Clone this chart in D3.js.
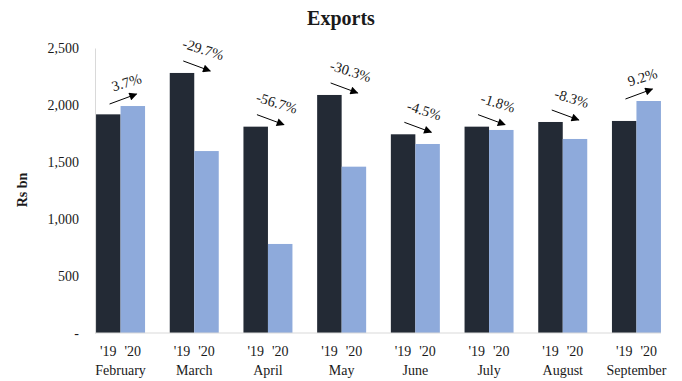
<!DOCTYPE html>
<html>
<head>
<meta charset="utf-8">
<script src="https://cdn.jsdelivr.net/npm/d3@7"></script>
<style>
	body { margin: 0; background: #fff; }
	text { font-family: "Liberation Serif", serif; fill: #1a1a1a; }
</style>
</head>
<body>
<div id="graph"></div>
<script>
var width = 682;
var height = 381;

// data
var months = ["February", "March", "April", "May", "June", "July", "August", "September"];
var exports19 = [1918, 2281, 1810, 2088, 1743, 1810, 1851, 1860];
var exports20 = [1991, 1596, 781, 1459, 1658, 1781, 1702, 2035];
var changeLabels = ["3.7%", "-29.7%", "-56.7%", "-30.3%", "-4.5%", "-1.8%", "-8.3%", "9.2%"];
var yearLabels = ["'19", "'20"];
var yTicks = [0, 500, 1000, 1500, 2000, 2500];

var colors = ["#232a35", "#8eaadb"];

var chart = d3.select("#graph")
	.append("svg")
	.attr("width", width)
	.attr("height", height);

var yScale = d3.scaleLinear().domain([0, 2500]).range([333, 48]);

var p = 24.7 / 73.7;
var xScale = d3.scaleBand().domain(months).range([83.7, 673.3])
	.paddingInner(p).paddingOuter(p / 2);
var xSub = d3.scaleBand().domain([0, 1]).range([0, xScale.bandwidth()]);

var rows = months.map(function (m, i) {
	return { month: m, v: [exports19[i], exports20[i]], label: changeLabels[i] };
});

// title
chart.append("text")
	.attr("x", 341).attr("y", 25)
	.attr("text-anchor", "middle")
	.style("font-size", "20px")
	.style("font-weight", "bold")
	.text("Exports");

// y axis title
chart.append("text")
	.attr("transform", "translate(27,190) rotate(-90)")
	.attr("text-anchor", "middle")
	.style("font-size", "14px")
	.style("font-weight", "bold")
	.text("Rs bn");

// y axis
var yAxis = d3.axisLeft(yScale)
	.tickValues(yTicks)
	.tickSize(0)
	.tickPadding(16)
	.tickFormat(function (d) { return d == 0 ? "-" : d3.format(",")(d); });

var gy = chart.append("g")
	.attr("transform", "translate(95,0)")
	.call(yAxis);
gy.select(".domain").attr("stroke", "#d9d9d9");
gy.selectAll(".tick text")
	.style("font-size", "14px")
	.style("font-family", "Liberation Serif, serif")
	.attr("fill", "#1a1a1a");

// bars
var groups = chart.selectAll("g.month")
	.data(rows)
	.enter()
	.append("g")
	.attr("class", "month")
	.attr("transform", function (d) { return "translate(" + xScale(d.month) + ",0)"; });

groups.selectAll("rect")
	.data(function (d) { return d.v; })
	.enter()
	.append("rect")
	.attr("x", function (d, i) { return xSub(i); })
	.attr("width", xSub.bandwidth())
	.attr("y", function (d) { return yScale(d); })
	.attr("height", function (d) { return yScale(0) - yScale(d); })
	.attr("fill", function (d, i) { return colors[i]; });

// x axis line
chart.append("line")
	.attr("x1", 95).attr("x2", 661)
	.attr("y1", yScale(0)).attr("y2", yScale(0))
	.attr("stroke", "#d9d9d9");

// year labels
groups.selectAll("text.yr")
	.data(yearLabels)
	.enter()
	.append("text")
	.attr("class", "yr")
	.attr("x", function (d, i) { return xSub(i) + xSub.bandwidth() / 2; })
	.attr("y", 356)
	.attr("text-anchor", "middle")
	.style("font-size", "14px")
	.text(function (d) { return d; });

groups.append("text")
	.attr("x", xScale.bandwidth() / 2)
	.attr("y", 375)
	.attr("text-anchor", "middle")
	.style("font-size", "14px")
	.text(function (d) { return d.month; });

// change arrows
chart.append("defs").append("marker")
	.attr("id", "head")
	.attr("viewBox", "0 0 10 10")
	.attr("refX", 9).attr("refY", 5)
	.attr("markerWidth", 10).attr("markerHeight", 8)
	.attr("markerUnits", "userSpaceOnUse")
	.attr("orient", "auto")
	.append("path")
	.attr("d", "M0,0 L10,5 L0,10 Z")
	.attr("fill", "#000");

groups.each(function (d) {
	var g = d3.select(this);
	var top = yScale(d3.max(d.v));
	var cx = 27;
	var cy = top - 7;
	var dir = d.v[1] >= d.v[0] ? -1 : 1;
	var dx = 13.5, dy = 5 * dir;
	g.append("line")
		.attr("x1", cx - dx).attr("y1", cy - dy)
		.attr("x2", cx + dx).attr("y2", cy + dy)
		.attr("stroke", "#000")
		.attr("stroke-width", 1)
		.attr("marker-end", "url(#head)");
	var ang = Math.atan2(dy, dx) * 180 / Math.PI * 0.85;
	g.append("text")
		.attr("transform", "translate(" + (cx + 5) + "," + (cy - 12) + ") rotate(" + ang + ")")
		.attr("text-anchor", "middle")
		.style("font-size", "14.5px")
		.text(d.label);
});
</script>
</body>
</html>
